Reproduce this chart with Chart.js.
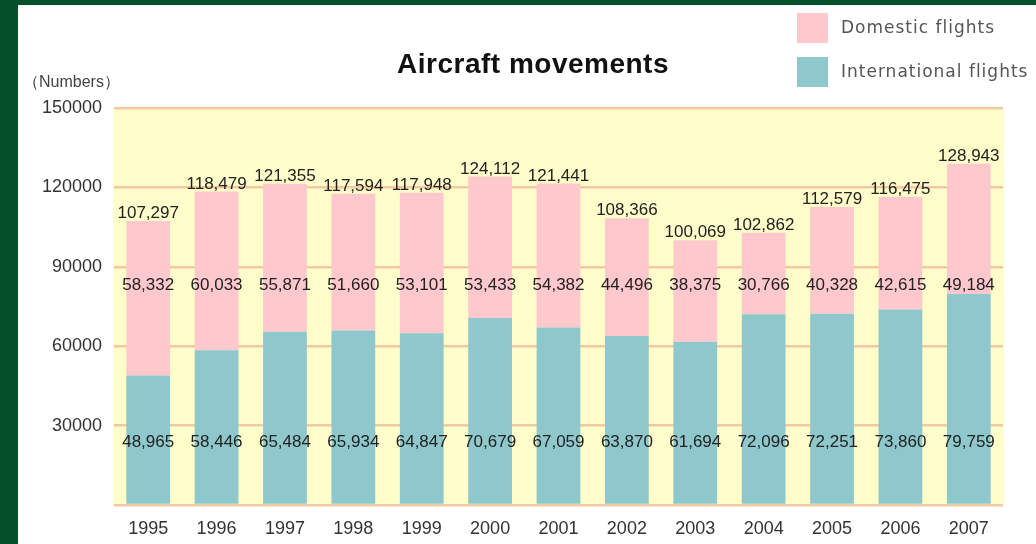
<!DOCTYPE html>
<html>
<head>
<meta charset="utf-8">
<script src="https://cdn.jsdelivr.net/npm/chart.js@4.4.1/dist/chart.umd.min.js"></script>
<style>
    html, body { margin: 0; padding: 0; background: #03502a; }
    #frame { position: absolute; left: 18px; top: 5px; width: 1018px; height: 539px; background: #fff; }
    #chart { display: block; }
</style>
</head>
<body>
<div id="frame"><canvas id="chart" width="1018" height="539"></canvas></div>
<script>
const years = ["1995", "1996", "1997", "1998", "1999", "2000", "2001", "2002", "2003", "2004", "2005", "2006", "2007"];
const international = [48965, 58446, 65484, 65934, 64847, 70679, 67059, 63870, 61694, 72096, 72251, 73860, 79759];
const domestic = [58332, 60033, 55871, 51660, 53101, 53433, 54382, 44496, 38375, 30766, 40328, 42615, 49184];
const totals = [107297, 118479, 121355, 117594, 117948, 124112, 121441, 108366, 100069, 102862, 112579, 116475, 128943];
const yTicks = [0, 30000, 60000, 90000, 120000, 150000];

const PINK = "#ffc8cc";
const TEAL = "#8ec8cc";
const YELLOW = "#fffdc9";
const GRID = "#f3c8a4";
const FONT = "'Liberation Sans', Arial, sans-serif";

const fmt = n => n.toLocaleString("en-US");

// yellow plot background
const plotBg = {
    id: "plotBg",
    beforeDraw(chart) {
        const { ctx, chartArea: a } = chart;
        ctx.save();
        ctx.fillStyle = YELLOW;
        ctx.fillRect(a.left - 1, a.top, a.right - a.left + 2, a.bottom - a.top);
        ctx.restore();
    }
};

// value labels: fixed rows for the two series, totals above the stack
const valueLabels = {
    id: "valueLabels",
    afterDatasetsDraw(chart) {
        const { ctx } = chart;
        const y = chart.scales.y;
        const intl = chart.getDatasetMeta(0).data;
        const dom = chart.getDatasetMeta(1).data;
        ctx.save();
        ctx.font = "17px " + FONT;
        ctx.fillStyle = "#222";
        ctx.textAlign = "center";
        ctx.textBaseline = "middle";
        years.forEach((yr, i) => {
            const x = intl[i].x;
            ctx.fillText(fmt(international[i]), x, y.getPixelForValue(23800));
            ctx.fillText(fmt(domestic[i]), x, y.getPixelForValue(83000));
        });
        ctx.textBaseline = "bottom";
        years.forEach((yr, i) => {
            ctx.fillText(fmt(totals[i]), dom[i].x, dom[i].y + 1);
        });
        ctx.restore();
    }
};

// title, unit and legend
const decorations = {
    id: "decorations",
    afterDraw(chart) {
        const { ctx } = chart;
        ctx.save();
        ctx.fillStyle = "#111";
        ctx.font = "bold 28px " + FONT;
        ctx.letterSpacing = "0.5px";
        ctx.textAlign = "center";
        ctx.textBaseline = "alphabetic";
        ctx.fillText("Aircraft movements", 515, 68);

        ctx.fillStyle = "#444";
        ctx.font = "16px " + FONT;
        ctx.letterSpacing = "0px";
        ctx.textAlign = "left";
        ctx.textBaseline = "middle";
        ctx.fillText("（Numbers）", 5, 78);

        const items = [
            { label: chart.data.datasets[1].label, color: PINK, y: 8 },
            { label: chart.data.datasets[0].label, color: TEAL, y: 52 }
        ];
        ctx.font = "17px 'DejaVu Sans', sans-serif";
        ctx.letterSpacing = "1px";
        items.forEach(it => {
            ctx.fillStyle = it.color;
            ctx.fillRect(779, it.y, 31, 30);
            ctx.fillStyle = "#555";
            ctx.fillText(it.label, 823, it.y + 16);
        });
        ctx.restore();
    }
};

new Chart(document.getElementById("chart").getContext("2d"), {
    type: "bar",
    data: {
        labels: years,
        datasets: [
            { label: "International flights", data: international, backgroundColor: TEAL },
            { label: "Domestic flights", data: domestic, backgroundColor: PINK }
        ]
    },
    options: {
        responsive: false,
        animation: false,
        layout: { padding: { top: 103, right: 33, left: 0, bottom: 0 } },
        datasets: { bar: { categoryPercentage: 1, barPercentage: 0.64 } },
        plugins: { legend: { display: false }, title: { display: false }, tooltip: { enabled: false } },
        scales: {
            x: {
                stacked: true,
                grid: { display: false },
                border: { display: false },
                ticks: { color: "#333", font: { family: FONT, size: 18 }, padding: 5, maxRotation: 0 },
                afterFit(s) { s.height = 39; }
            },
            y: {
                stacked: true,
                min: 0,
                max: 150000,
                afterBuildTicks(s) { s.ticks = yTicks.map(v => ({ value: v })); },
                grid: { color: GRID, lineWidth: 2.5, drawTicks: false },
                border: { display: false },
                ticks: {
                    color: "#333",
                    font: { family: FONT, size: 18 },
                    padding: 12,
                    callback: v => v === 0 ? "" : String(v)
                },
                afterFit(s) { s.width = 96; }
            }
        }
    },
    plugins: [plotBg, valueLabels, decorations]
});
</script>
</body>
</html>
